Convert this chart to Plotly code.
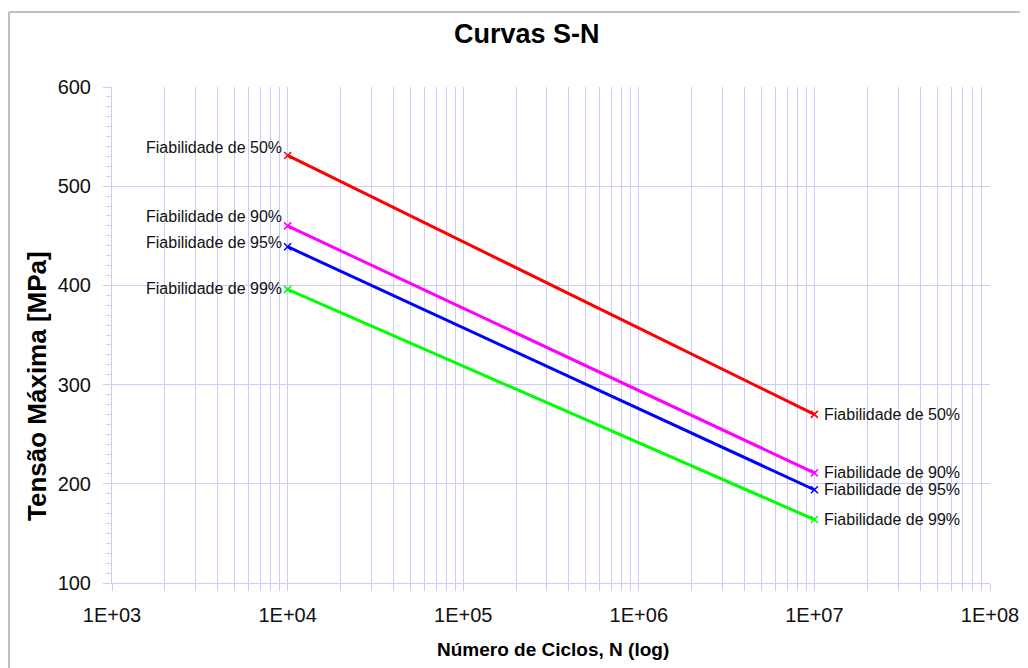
import plotly.graph_objects as go

# ---- data ----
cycles = [1e4, 1e7]
series_names = ["Fiabilidade de 50%", "Fiabilidade de 90%", "Fiabilidade de 95%", "Fiabilidade de 99%"]
stress_50 = [531, 270]
stress_90 = [460, 211]
stress_95 = [439, 194]
stress_99 = [396, 164]
x_tick_vals = [1e3, 1e4, 1e5, 1e6, 1e7, 1e8]
x_tick_text = ["1E+03", "1E+04", "1E+05", "1E+06", "1E+07", "1E+08"]
y_tick_vals = [100, 200, 300, 400, 500, 600]

series_values = [stress_50, stress_90, stress_95, stress_99]
colors = ["#ff0000", "#ff00ff", "#0000ff", "#00ff00"]
left_label_yshift = [8, 9, 4, 1]

GRID = "#ccccff"
FONT = "Liberation Sans, Arial, sans-serif"

fig = go.Figure()
for name, vals, col in zip(series_names, series_values, colors):
    fig.add_trace(go.Scatter(
        x=cycles, y=vals, mode="lines+markers", name=name,
        line=dict(color=col, width=3),
        marker=dict(symbol="x-thin", size=7, color=col, line=dict(color=col, width=1.5)),
        showlegend=False, cliponaxis=False,
    ))

annotations = []
for name, vals, ys in zip(series_names, series_values, left_label_yshift):
    annotations.append(dict(x=4, y=vals[0], xref="x", yref="y", text=name,
                            showarrow=False, xanchor="right", yanchor="middle",
                            xshift=-4, yshift=ys, font=dict(family=FONT, size=16, color="#111")))
    annotations.append(dict(x=7, y=vals[1], xref="x", yref="y", text=name,
                            showarrow=False, xanchor="left", yanchor="middle",
                            xshift=8, yshift=0, font=dict(family=FONT, size=16, color="#111")))

# layout geometry (the page body adds an 8px offset)
OFF = 8
W, H = 1028, 668
L, T = 112 - OFF, 87 - OFF
pw, ph = 878, 496
R = W - L - pw
B = H - T - ph


def px(x):
    return (x - OFF - L) / pw


def py(y):
    return (H - B - (y - OFF)) / ph


annotations += [
    dict(x=px(527), y=py(34), xref="paper", yref="paper", text="<b>Curvas S-N</b>",
         showarrow=False, xanchor="center", yanchor="middle",
         font=dict(family=FONT, size=27, color="#000")),
    dict(x=px(553), y=py(649), xref="paper", yref="paper", text="<b>Número de Ciclos, N (log)</b>",
         showarrow=False, xanchor="center", yanchor="middle",
         font=dict(family=FONT, size=19, color="#000")),
    dict(x=px(37), y=py(386), xref="paper", yref="paper", text="<b>Tensão Máxima [MPa]</b>",
         showarrow=False, xanchor="center", yanchor="middle", textangle=-90,
         font=dict(family=FONT, size=26, color="#000")),
]

minor_x = [m * 10 ** e for e in range(3, 8) for m in range(2, 10)]

fig.update_layout(
    width=W, height=H,
    margin=dict(l=L, r=R, t=T, b=B, autoexpand=False),
    paper_bgcolor="white", plot_bgcolor="white",
    annotations=annotations,
    shapes=[
        dict(type="line", xref="paper", yref="paper", x0=px(9), x1=px(1060), y0=py(12), y1=py(12),
             line=dict(color="#c0c0c0", width=2)),
        dict(type="line", xref="paper", yref="paper", x0=px(9), x1=px(9), y0=py(12), y1=py(700),
             line=dict(color="#c0c0c0", width=2)),
    ],
    font=dict(family=FONT, color="#000"),
)

fig.update_xaxes(
    type="log", range=[3, 8],
    tickvals=x_tick_vals, ticktext=x_tick_text,
    tickfont=dict(family=FONT, size=20, color="#111"),
    ticks="outside", ticklen=7, tickcolor=GRID, tickwidth=1,
    showgrid=True, gridcolor=GRID, gridwidth=1,
    showline=True, linecolor=GRID, linewidth=1,
    ticklabelstandoff=7,
    minor=dict(tickvals=minor_x, ticks="outside", ticklen=7, tickcolor=GRID,
               showgrid=True, gridcolor=GRID, gridwidth=1),
    zeroline=False,
)
fig.update_yaxes(
    range=[100, 600], tickvals=y_tick_vals,
    tickfont=dict(family=FONT, size=20, color="#111"),
    ticks="outside", ticklen=8, tickcolor=GRID, tickwidth=1,
    showgrid=True, gridcolor=GRID, gridwidth=1,
    showline=True, linecolor=GRID, linewidth=1,
    ticklabelstandoff=8,
    minor=dict(dtick=10, ticks="outside", ticklen=5, tickcolor=GRID, showgrid=False),
    zeroline=False,
)

fig.write_html("out.html")
